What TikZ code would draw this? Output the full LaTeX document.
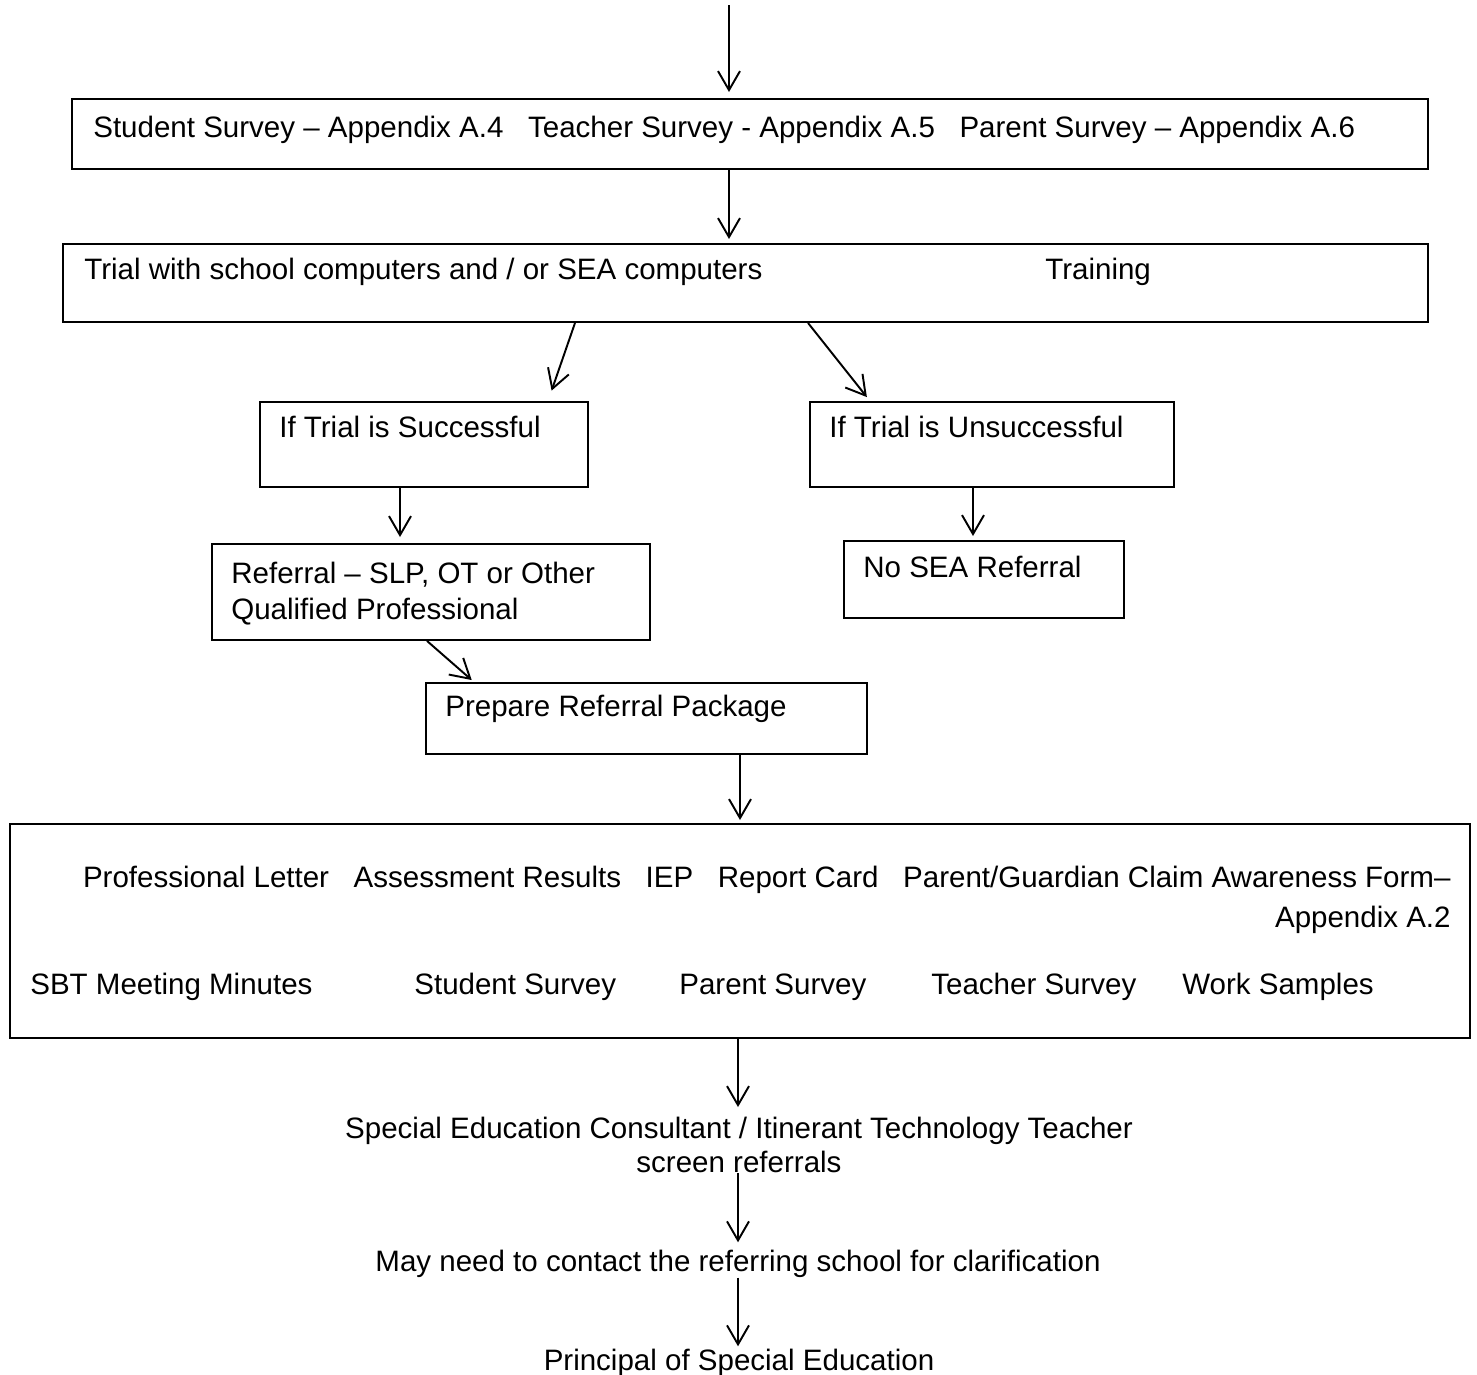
\documentclass[tikz,border=0pt]{standalone}
\usepackage{fontspec}
\setmainfont{Liberation Sans}
\usetikzlibrary{arrows.meta}
\begin{document}
\begin{tikzpicture}[x=0.02cm,y=-0.02cm,
	box/.style={draw, line width=1.1pt, anchor=north west, inner sep=0pt},
	txt/.style={inner sep=0pt, font=\fontsize{16.8}{19.3}\selectfont},
	arr/.style={line width=1.1pt, shorten >=0.08cm, -{Straight Barb[length=0.38cm,width=0.44cm,line width=1.1pt]}}]
	\useasboundingbox (0,0) rectangle (1477,1374);
	\node[box, minimum width=27.12cm, minimum height=1.40cm] (survey) at (71,98) {};
	\node[box, minimum width=27.30cm, minimum height=1.56cm] (trial) at (62,243) {};
	\node[box, minimum width=6.56cm, minimum height=1.70cm] (succ) at (259,401) {};
	\node[box, minimum width=7.28cm, minimum height=1.70cm] (unsucc) at (809,401) {};
	\node[box, minimum width=8.76cm, minimum height=1.92cm] (referral) at (211,543) {};
	\node[box, minimum width=5.60cm, minimum height=1.54cm] (nosea) at (843,540) {};
	\node[box, minimum width=8.82cm, minimum height=1.42cm] (prepare) at (425,682) {};
	\node[box, minimum width=29.20cm, minimum height=4.28cm] (docs) at (9,823) {};
	
	\node[txt, anchor=base west] (surveyT) at (93,137) {Student Survey – Appendix A.4\ \ \ Teacher Survey - Appendix A.5\ \ \ Parent Survey – Appendix A.6};
	\node[txt, anchor=base west] (trialT) at (84,279) {Trial with school computers and / or SEA computers};
	\node[txt, anchor=base west] (trainT) at (1045,279) {Training};
	\node[txt, anchor=base west] (succT) at (279,437) {If Trial is Successful};
	\node[txt, anchor=base west] (unsuccT) at (829,437) {If Trial is Unsuccessful};
	\node[txt, anchor=north west, align=left, font=\fontsize{16.8}{20.5}\selectfont] (referralT) at (231,562) {Referral – SLP, OT or Other\\Qualified Professional};
	\node[txt, anchor=base west] (noseaT) at (863,577) {No SEA Referral};
	\node[txt, anchor=base west] (prepareT) at (445,716) {Prepare Referral Package};
	\node[txt, anchor=north east, align=right, font=\fontsize{16.8}{22.8}\selectfont] (docsT) at (1451,866) {Professional Letter\ \ \ Assessment Results\ \ \ IEP\ \ \ Report Card\ \ \ Parent/Guardian Claim Awareness Form–\\Appendix A.2};
	\node[txt, anchor=base west] (sbt) at (30,994) {SBT Meeting Minutes};
	\node[txt, anchor=base west] (studs) at (414,994) {Student Survey};
	\node[txt, anchor=base west] (pars) at (679,994) {Parent Survey};
	\node[txt, anchor=base west] (teas) at (931,994) {Teacher Survey};
	\node[txt, anchor=base west] (work) at (1182,994) {Work Samples};
	\node[txt, anchor=north, align=center] (consult) at (739,1117) {Special Education Consultant / Itinerant Technology Teacher\\screen referrals};
	\node[txt, anchor=base] (clarif) at (738,1271) {May need to contact the referring school for clarification};
	\node[txt, anchor=base] (principal) at (739,1370) {Principal of Special Education};
	\coordinate (start) at (729,5);
	
	\draw[arr, shorten >=0.12cm] (start) -- (survey.north -| start);
	\draw[arr] (survey.south -| start) -- (trial.north -| start);
	\draw[arr, shorten >=0.22cm] (trial.south -| 575,0) -- (succ.north -| 548,0);
	\draw[arr, shorten >=0.1cm] (trial.south -| 808,0) -- (unsucc.north -| 870,0);
	\draw[arr, shorten >=0.12cm] (succ.south -| 400,0) -- (referral.north -| 400,0);
	\draw[arr] (unsucc.south -| 973,0) -- (nosea.north -| 973,0);
	\draw[arr, shorten >=0.06cm] (referral.south -| 427,0) -- (prepare.north -| 474,0);
	\draw[arr, shorten >=0.06cm] (prepare.south -| 740,0) -- (docs.north -| 740,0);
	\draw[arr, shorten >=0.2cm] (docs.south -| clarif) -- (consult.north -| clarif);
	\draw[arr, shorten >=0.14cm] (consult.south -| clarif) -- (clarif.north);
	\draw[arr, shorten >=0.04cm] (clarif.south) -- (principal.north -| clarif);
\end{tikzpicture}
\end{document}
